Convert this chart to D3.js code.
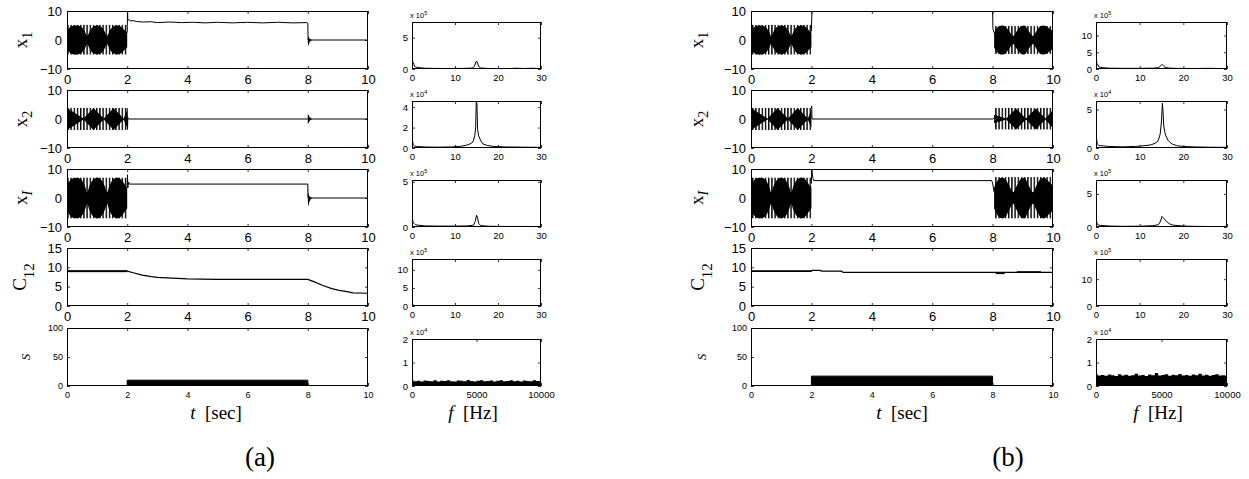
<!DOCTYPE html>
<html>
<head>
<meta charset="utf-8">
<script src="https://cdn.jsdelivr.net/npm/d3@7"></script>
<style>
body { margin: 0; background: #fff; }
</style>
</head>
<body>
<svg id="fig" width="1249" height="479"></svg>
<script>
// ---------- data ----------
var timeTicks = [0, 2, 4, 6, 8, 10];
var xTicksY = [-10, 0, 10];
var c12Ticks = [0, 5, 10, 15];
var sTicks = [0, 50, 100];
var specTicks = [0, 10, 20, 30];
var noiseTicks = [0, 5000, 10000];

// oscillation envelopes (hatched band = peak swing, lobes = dense black part)
var x1a_band = [[0, 2, -5, 5.2]];
var x2a_band = [[0, 2, -3.8, 3.8]];
var xIa_band = [[0, 2, -7, 7]];
var x1b_band = [[0, 2, -5, 5.2], [8.05, 10, -4.8, 4.8]];
var x2b_band = [[0, 2, -3.8, 3.8], [8.05, 10, -3.6, 3.8]];
var xIb_band = [[0, 2, -7, 7], [8.05, 10, -7, 7.2]];

var lobeT_x1 = [0, 0.08, 0.2, 0.33, 0.47, 0.6, 0.67, 0.74, 0.87, 1.0, 1.13, 1.26, 1.33, 1.4, 1.53, 1.67, 1.8, 1.93, 2.0];
var lobeA_x1 = [3.2, 4.2, 4.9, 5, 4.6, 2.8, 1.4, 2.8, 4.6, 5, 4.6, 2.8, 1.4, 2.8, 4.6, 5, 4.6, 3.2, 2.5];
var lobeA_xI = [4.5, 5.8, 6.8, 7, 6.4, 4, 2, 4, 6.4, 7, 6.4, 4, 2, 4, 6.4, 7, 6.4, 4.5, 3.5];
var lobeT_x2 = [0, 0.55, 0.88, 1.22, 1.55, 1.88, 2.0];
var lobeA_x2 = [3.8, 0.15, 3.8, 0.15, 3.8, 0.15, 3.0];

var lobeT_b2 = [8.05, 8.15, 8.3, 8.4, 8.55, 8.68, 8.8, 8.95, 9.05, 9.2, 9.34, 9.45, 9.6, 9.7, 9.85, 10];
var lobeA_x1b2 = [2.5, 4.2, 5, 4.8, 3, 1.4, 3, 4.8, 5, 3, 1.4, 3, 4.8, 5, 4.2, 3];
var lobeA_xIb2 = [3.5, 5.8, 7, 6.7, 4.2, 2, 4.2, 6.7, 7, 4.2, 2, 4.2, 6.7, 7, 5.8, 4.2];
var lobeT_x2b2 = [8.05, 8.45, 8.78, 9.1, 9.43, 9.75, 10];
var lobeA_x2b2 = [1.5, 0.15, 3.6, 0.15, 3.6, 0.15, 3.2];

// decaying bursts right after the switch at t = 8 (panel a)
var burstT = [8.0, 8.02, 8.05, 8.1, 8.15];
var burstUp_x1a = [0, 1.2, 0.6, 0.2, 0];
var burstLo_x1a = [-0.5, -2, -1, -0.3, 0];
var burstUp_x2a = [1.8, 1.5, 0.9, 0.3, 0];
var burstLo_x2a = [-1.8, -1.5, -0.9, -0.3, 0];
var burstUp_xIa = [4.8, 1.5, 0.8, 0.3, 0];
var burstLo_xIa = [0, -2.8, -1.5, -0.4, 0];

// plain traces [t, value]
var x1a_line = [[2.0, 2.5], [2.01, 10], [2.02, 6.9], [2.06, 7.0], [2.1, 6.6], [2.2, 6.7], [2.3, 6.4], [2.5, 6.2], [2.8, 6.3], [3.0, 6.0], [3.4, 6.2], [3.8, 6.0], [4.2, 6.1], [4.6, 5.9], [5.0, 6.1], [5.5, 5.9], [6.0, 6.1], [6.5, 5.9], [7.0, 6.1], [7.5, 5.9], [7.97, 6.0], [8.0, 5.8], [8.01, 0], [8.15, 0], [10, 0]];
var x2a_line = [[2.0, 3.8], [2.01, -3.6], [2.02, 0.5], [2.04, 0], [8.0, 0], [8.15, 0], [10, 0]];
var xIa_line = [[2.0, 4], [2.01, 8], [2.02, 3.5], [2.04, 5.5], [2.07, 4.8], [8.0, 4.8], [8.01, 0], [8.15, 0], [10, 0]];
var c12a_line = [[0, 9], [2, 9], [2.2, 8.6], [2.5, 8.0], [2.8, 7.6], [3.0, 7.4], [3.5, 7.2], [4, 7.0], [5, 6.9], [6, 6.9], [7, 6.9], [8, 6.9], [8.2, 6.3], [8.5, 5.3], [8.8, 4.5], [9.0, 4.1], [9.3, 3.7], [9.5, 3.4], [10, 3.3]];
var c12a_band = [[0, 2, 8.75, 9.25]];

var x1b_line = [[2.0, 3], [2.02, 10.5], [2.05, 12], [7.98, 12], [8.0, 10.5], [8.01, 4], [8.05, 2.5]];
var x2b_line = [[2.0, 3.8], [2.01, 4.5], [2.02, 0], [8.0, 0], [8.05, 0.3]];
var xIb_line = [[2.0, 5], [2.01, 10], [2.02, 9], [2.05, 6.8], [2.08, 6.0], [7.97, 6.0], [8.0, 5.2], [8.05, 2]];
var c12b_line = [[0, 9.0], [2.0, 9.0], [2.02, 9.2], [2.3, 9.2], [2.32, 9.0], [3.0, 9.0], [3.05, 8.7], [10, 8.7]];
var c12b_band = [[0, 2, 8.8, 9.2], [8.1, 8.4, 8.25, 8.55], [8.8, 9.6, 8.7, 9.0]];

var sT = [0, 2, 2, 8, 8, 10];
var sA = [0, 0, 10, 10, 0, 0];
var sB = [0, 0, 17, 17, 0, 0];

// spectra [f, value]
var sp1a = [[0, 0.2], [0.1, 1.6], [0.25, 0.8], [0.4, 0.9], [0.6, 0.4], [0.9, 0.3], [1.3, 0.25], [2, 0.2], [3, 0.12], [5, 0.1], [8, 0.08], [12, 0.1], [14, 0.15], [14.5, 0.4], [14.9, 1.2], [15.1, 1.2], [15.5, 0.4], [16, 0.15], [18, 0.08], [22, 0.06], [24, 0.12], [26, 0.08], [28, 0.12], [30, 0.05]];
var sp2a = [[0, 0.1], [0.1, 0.7], [0.3, 0.3], [0.6, 0.2], [1, 0.15], [3, 0.1], [6, 0.08], [9, 0.1], [11, 0.15], [12.5, 0.25], [13.5, 0.4], [14.2, 0.6], [14.6, 1.2], [14.8, 2.0], [14.95, 4.6], [15.1, 4.3], [15.25, 1.8], [15.5, 1.2], [16, 0.7], [16.5, 0.4], [17.5, 0.25], [19, 0.15], [22, 0.1], [26, 0.08], [30, 0.06]];
var sp3a = [[0, 0.2], [0.1, 1.0], [0.25, 0.5], [0.5, 0.4], [0.8, 0.25], [1.5, 0.2], [3, 0.12], [6, 0.1], [10, 0.1], [13, 0.12], [14.3, 0.2], [14.7, 0.6], [15.0, 1.3], [15.2, 1.1], [15.5, 0.4], [16, 0.15], [18, 0.08], [22, 0.06], [26, 0.06], [30, 0.05]];
var sp4a = [[0, 0], [0.05, 1.5], [0.2, 0.3], [0.5, 0.05], [1, 0], [30, 0]];
var sp5a = [0.24, 0.2, 0.22, 0.19, 0.23, 0.21, 0.2, 0.25, 0.19, 0.22, 0.21, 0.24, 0.2, 0.19, 0.23, 0.22, 0.2, 0.26, 0.21, 0.19, 0.22, 0.24, 0.2, 0.21, 0.23, 0.19, 0.22, 0.25, 0.2, 0.21, 0.24, 0.2, 0.22, 0.19, 0.23, 0.21, 0.2, 0.24, 0.21, 0.2];

var sp1b = [[0, 0.3], [0.1, 2.8], [0.25, 1.2], [0.4, 1.3], [0.7, 0.6], [1, 0.5], [1.5, 0.4], [3, 0.25], [6, 0.2], [10, 0.2], [13, 0.25], [14.4, 0.4], [14.8, 1.0], [15.1, 1.4], [15.4, 1.0], [15.8, 0.5], [16.5, 0.3], [18, 0.2], [22, 0.15], [26, 0.2], [30, 0.1]];
var sp2b = [[0, 0.1], [0.1, 1.3], [0.3, 0.5], [0.6, 0.35], [1, 0.3], [3, 0.2], [6, 0.15], [9, 0.2], [11, 0.3], [12.5, 0.4], [13.5, 0.6], [14.2, 0.9], [14.7, 1.8], [15.0, 3.5], [15.2, 5.8], [15.35, 4.8], [15.5, 3.0], [15.7, 2.2], [16.0, 1.6], [16.5, 1.0], [17, 0.7], [17.5, 0.5], [18.5, 0.3], [20, 0.2], [22, 0.15], [26, 0.1], [30, 0.08]];
var sp3b = [[0, 0.1], [0.1, 0.9], [0.3, 0.4], [0.6, 0.3], [1, 0.25], [3, 0.15], [6, 0.1], [10, 0.12], [13, 0.2], [14.3, 0.35], [14.8, 0.9], [15.1, 1.6], [15.4, 1.4], [15.8, 1.1], [16.2, 0.8], [16.8, 0.5], [17.5, 0.3], [19, 0.2], [21, 0.12], [25, 0.08], [30, 0.06]];
var sp4b = [[0, 0], [0.05, 0.4], [0.2, 0.05], [1, 0], [30, 0]];
var sp5b = [0.5, 0.45, 0.47, 0.44, 0.49, 0.46, 0.43, 0.5, 0.45, 0.48, 0.44, 0.46, 0.52, 0.45, 0.47, 0.43, 0.49, 0.46, 0.55, 0.45, 0.47, 0.5, 0.44, 0.48, 0.46, 0.51, 0.45, 0.47, 0.44, 0.49, 0.46, 0.52, 0.45, 0.48, 0.44, 0.47, 0.5, 0.45, 0.46, 0.44];

var specYmaxA = [7.5, 4.6, 5.2, 13, 2];
var specYmaxB = [14, 6.1, 7.1, 17.5, 2];
var specYTicksA = [[0, 5], [0, 2, 4], [0, 5], [0, 5, 10], [0, 1, 2]];
var specYTicksB = [[0, 5, 10], [0, 5], [0, 5], [0, 10], [0, 1, 2]];
var specExp = [5, 4, 5, 5, 4];

// ---------- layout ----------
var timeTop = [11, 90, 169, 248, 328];
var specTop = [22, 101, 180, 259, 339];
var rowBottom = [69, 148, 227, 306, 386];
var SANS = "'Liberation Sans', Arial, sans-serif";
var SERIF = "'Liberation Serif', 'Times New Roman', serif";

var svg = d3.select('#fig');
svg.append('rect').attr('width', 1249).attr('height', 479).attr('fill', '#fff');
var defs = svg.append('defs');
defs.append('pattern').attr('id', 'hatch').attr('patternUnits', 'userSpaceOnUse')
    .attr('width', 3.2).attr('height', 10)
  .append('rect').attr('width', 1.4).attr('height', 10).attr('fill', '#000');

var clipN = 0;
var minusFmt = function(d) { return d < 0 ? '\u2212' + Math.abs(d) : String(d); };

function panel(x0, x1, top, bottom, xdom, ydom, xt, yt, fs, xpad, ypad) {
    var x = d3.scaleLinear().domain(xdom).range([x0, x1]);
    var y = d3.scaleLinear().domain(ydom).range([bottom, top]);
    var id = 'clip' + (clipN++);
    defs.append('clipPath').attr('id', id).append('rect')
        .attr('x', x0).attr('y', top).attr('width', x1 - x0).attr('height', bottom - top);
    var plot = svg.append('g').attr('clip-path', 'url(#' + id + ')');
    var ax = svg.append('g');

    function styleAxis(g) {
        g.select('.domain').remove();
        g.attr('font-family', SANS).attr('font-size', fs);
        g.selectAll('line').attr('stroke', '#000').attr('stroke-width', 0.8);
    }
    ax.append('g').attr('transform', 'translate(0,' + bottom + ')')
        .call(d3.axisBottom(x).tickValues(xt).tickSize(-3).tickPadding(xpad).tickFormat(minusFmt)).call(styleAxis);
    ax.append('g').attr('transform', 'translate(0,' + top + ')')
        .call(d3.axisTop(x).tickValues(xt).tickSize(-3).tickFormat('')).call(styleAxis);
    ax.append('g').attr('transform', 'translate(' + x0 + ',0)')
        .call(d3.axisLeft(y).tickValues(yt).tickSize(-3).tickPadding(ypad).tickFormat(minusFmt)).call(styleAxis);
    ax.append('g').attr('transform', 'translate(' + x1 + ',0)')
        .call(d3.axisRight(y).tickValues(yt).tickSize(-3).tickFormat('')).call(styleAxis);
    ax.append('rect').attr('x', x0 + 0.5).attr('y', top + 0.5)
        .attr('width', x1 - x0 - 1).attr('height', bottom - top - 1)
        .attr('fill', 'none').attr('stroke', '#000').attr('stroke-width', 1)
        .attr('shape-rendering', 'crispEdges');
    return { x: x, y: y, plot: plot };
}

function drawBand(p, bands) {
    bands.forEach(function(b) {
        p.plot.append('rect').attr('x', p.x(b[0])).attr('width', p.x(b[1]) - p.x(b[0]))
            .attr('y', p.y(b[3])).attr('height', p.y(b[2]) - p.y(b[3]))
            .attr('fill', 'url(#hatch)');
    });
}
function drawLobes(p, ts, amps, curve) {
    var pts = ts.map(function(t, i) { return [t, amps[i]]; });
    p.plot.append('path').datum(pts)
        .attr('d', d3.area().curve(curve).x(function(d) { return p.x(d[0]); })
            .y0(function(d) { return p.y(-d[1]); }).y1(function(d) { return p.y(d[1]); }))
        .attr('fill', '#000');
}
function drawBurst(p, ts, up, lo) {
    var pts = ts.map(function(t, i) { return [t, up[i], lo[i]]; });
    p.plot.append('path').datum(pts)
        .attr('d', d3.area().curve(d3.curveMonotoneX).x(function(d) { return p.x(d[0]); })
            .y0(function(d) { return p.y(d[2]); }).y1(function(d) { return p.y(d[1]); }))
        .attr('fill', '#000');
}
function drawLine(p, pts, w) {
    p.plot.append('path').datum(pts)
        .attr('d', d3.line().x(function(d) { return p.x(d[0]); }).y(function(d) { return p.y(d[1]); }))
        .attr('fill', 'none').attr('stroke', '#000').attr('stroke-width', w || 1);
}
function drawSolid(p, bands) {
    bands.forEach(function(b) {
        p.plot.append('rect').attr('x', p.x(b[0])).attr('width', p.x(b[1]) - p.x(b[0]))
            .attr('y', p.y(b[3])).attr('height', p.y(b[2]) - p.y(b[3])).attr('fill', '#000');
    });
}
function drawStep(p, ts, vs) {
    var pts = ts.map(function(t, i) { return [t, vs[i]]; });
    p.plot.append('path').datum(pts)
        .attr('d', d3.area().x(function(d) { return p.x(d[0]); })
            .y0(p.y(0)).y1(function(d) { return p.y(d[1]); }))
        .attr('fill', '#000').attr('stroke', '#000').attr('stroke-width', 1);
}
function drawNoise(p, vals) {
    var idx = d3.scaleLinear().domain([0, vals.length - 1]).range(p.x.domain());
    p.plot.append('path').datum(vals)
        .attr('d', d3.area().curve(d3.curveStep).x(function(d, i) { return p.x(idx(i)); })
            .y0(p.y(0)).y1(function(d) { return p.y(d); }))
        .attr('fill', '#000');
}

// rotated y label; method picks how the rotation is written
function ylabel(x, yc, parts, method) {
    var t;
    if (method === 'attr') {
        t = svg.append('text').attr('x', x).attr('y', yc)
            .attr('transform', 'rotate(-90 ' + x + ' ' + yc + ')');
    } else if (method === 'css') {
        t = svg.append('text').attr('x', 0).attr('y', 0)
            .style('transform', 'translate(' + x + 'px,' + yc + 'px) rotate(-90deg)');
    } else {
        t = svg.append('g').attr('transform', 'translate(' + x + ',' + yc + ') rotate(-90)')
            .append('text').attr('x', 0).attr('y', 0);
    }
    t.attr('text-anchor', 'middle').attr('font-family', SERIF);
    parts.forEach(function(q) {
        var s = t.append('tspan').text(q.s).attr('font-size', q.fs);
        if (q.dy) s.attr('dy', q.dy);
        if (q.it) s.attr('font-style', 'italic');
    });
}

function exponent(x, y, e) {
    var t = svg.append('text').attr('x', x).attr('y', y)
        .attr('font-family', SANS).attr('font-size', 7.5);
    t.append('tspan').text('x 10');
    t.append('tspan').text(e).attr('font-size', 5.5).attr('dy', -3.5);
}

var cols = [
    { tx0: 67, tx1: 368, sx0: 412, sx1: 541, lab: [40, 40, 40, 41, 37], tCenter: 216, fCenter: 473, tag: '(a)', tagX: 260,
      ymax: specYmaxA, yticks: specYTicksA, spec: [sp1a, sp2a, sp3a, sp4a], noise: sp5a },
    { tx0: 751, tx1: 1053, sx0: 1096, sx1: 1227, lab: [48, 48, 48, 47, 45], tCenter: 902, fCenter: 1158, tag: '(b)', tagX: 1008,
      ymax: specYmaxB, yticks: specYTicksB, spec: [sp1b, sp2b, sp3b, sp4b], noise: sp5b }
];

cols.forEach(function(c, ci) {
    var P = [];
    for (var r = 0; r < 5; r++) {
        var ydom = r < 3 ? [-10, 10] : (r === 3 ? [0, 15] : [0, 100]);
        var yt = r < 3 ? xTicksY : (r === 3 ? c12Ticks : sTicks);
        var small = r === 4;
        P.push(panel(c.tx0, c.tx1, timeTop[r], rowBottom[r], [0, 10], ydom, timeTicks, yt,
            small ? 9 : 13, 6, small ? 4 : 5));
    }
    if (ci === 0) {
        drawBand(P[0], x1a_band); drawLobes(P[0], lobeT_x1, lobeA_x1, d3.curveMonotoneX);
        drawBurst(P[0], burstT, burstUp_x1a, burstLo_x1a); drawLine(P[0], x1a_line);
        drawBand(P[1], x2a_band); drawLobes(P[1], lobeT_x2, lobeA_x2, d3.curveLinear);
        drawBurst(P[1], burstT, burstUp_x2a, burstLo_x2a); drawLine(P[1], x2a_line);
        drawBand(P[2], xIa_band); drawLobes(P[2], lobeT_x1, lobeA_xI, d3.curveMonotoneX);
        drawBurst(P[2], burstT, burstUp_xIa, burstLo_xIa); drawLine(P[2], xIa_line);
        drawSolid(P[3], c12a_band); drawLine(P[3], c12a_line, 1.2);
        drawStep(P[4], sT, sA);
    } else {
        drawBand(P[0], x1b_band); drawLobes(P[0], lobeT_x1, lobeA_x1, d3.curveMonotoneX);
        drawLobes(P[0], lobeT_b2, lobeA_x1b2, d3.curveMonotoneX); drawLine(P[0], x1b_line);
        drawBand(P[1], x2b_band); drawLobes(P[1], lobeT_x2, lobeA_x2, d3.curveLinear);
        drawLobes(P[1], lobeT_x2b2, lobeA_x2b2, d3.curveLinear); drawLine(P[1], x2b_line);
        drawBand(P[2], xIb_band); drawLobes(P[2], lobeT_x1, lobeA_xI, d3.curveMonotoneX);
        drawLobes(P[2], lobeT_b2, lobeA_xIb2, d3.curveMonotoneX); drawLine(P[2], xIb_line);
        drawSolid(P[3], c12b_band); drawLine(P[3], c12b_line, 1.2);
        drawStep(P[4], sT, sB);
    }

    // y labels (rotated)
    var mid = function(r) { return (timeTop[r] + rowBottom[r]) / 2; };
    ylabel(c.tx0 - c.lab[0], mid(0), [{ s: 'x', fs: 19 }, { s: '1', fs: 14, dy: 5 }], 'attr');
    ylabel(c.tx0 - c.lab[1], mid(1), [{ s: 'x', fs: 19 }, { s: '2', fs: 14, dy: 5 }], 'css');
    ylabel(c.tx0 - c.lab[2], mid(2), [{ s: 'x', fs: 19 }, { s: 'I', fs: 14, dy: 5, it: true }], 'g');
    ylabel(c.tx0 - c.lab[3], mid(3), [{ s: 'C', fs: 19 }, { s: '12', fs: 15, dy: 8 }], 'attr');
    ylabel(c.tx0 - c.lab[4], mid(4), [{ s: 'S', fs: 13, it: true }], 'css');

    // spectra
    for (var s = 0; s < 5; s++) {
        var last = s === 4;
        var sp = panel(c.sx0, c.sx1, specTop[s], rowBottom[s], last ? [0, 10000] : [0, 30], [0, c.ymax[s]],
            last ? noiseTicks : specTicks, c.yticks[s], 9.5, 5, 4);
        if (last) drawNoise(sp, c.noise);
        else drawLine(sp, c.spec[s], 1);
        exponent(c.sx0 - 2, specTop[s] - 4, specExp[s]);
    }

    // axis titles and panel tag
    var tl = svg.append('text').attr('x', c.tCenter).attr('y', 419).attr('text-anchor', 'middle')
        .attr('font-family', SERIF).attr('font-size', 19);
    tl.append('tspan').text('t').attr('font-style', 'italic');
    tl.append('tspan').text('\u00a0\u00a0[sec]');
    var fl = svg.append('text').attr('x', c.fCenter).attr('y', 419).attr('text-anchor', 'middle')
        .attr('font-family', SERIF).attr('font-size', 19);
    fl.append('tspan').text('f').attr('font-style', 'italic');
    fl.append('tspan').text('\u00a0\u00a0[Hz]');
    svg.append('text').attr('x', c.tagX).attr('y', 466).attr('text-anchor', 'middle')
        .attr('font-family', SERIF).attr('font-size', 27).text(c.tag);
});
</script>
</body>
</html>
